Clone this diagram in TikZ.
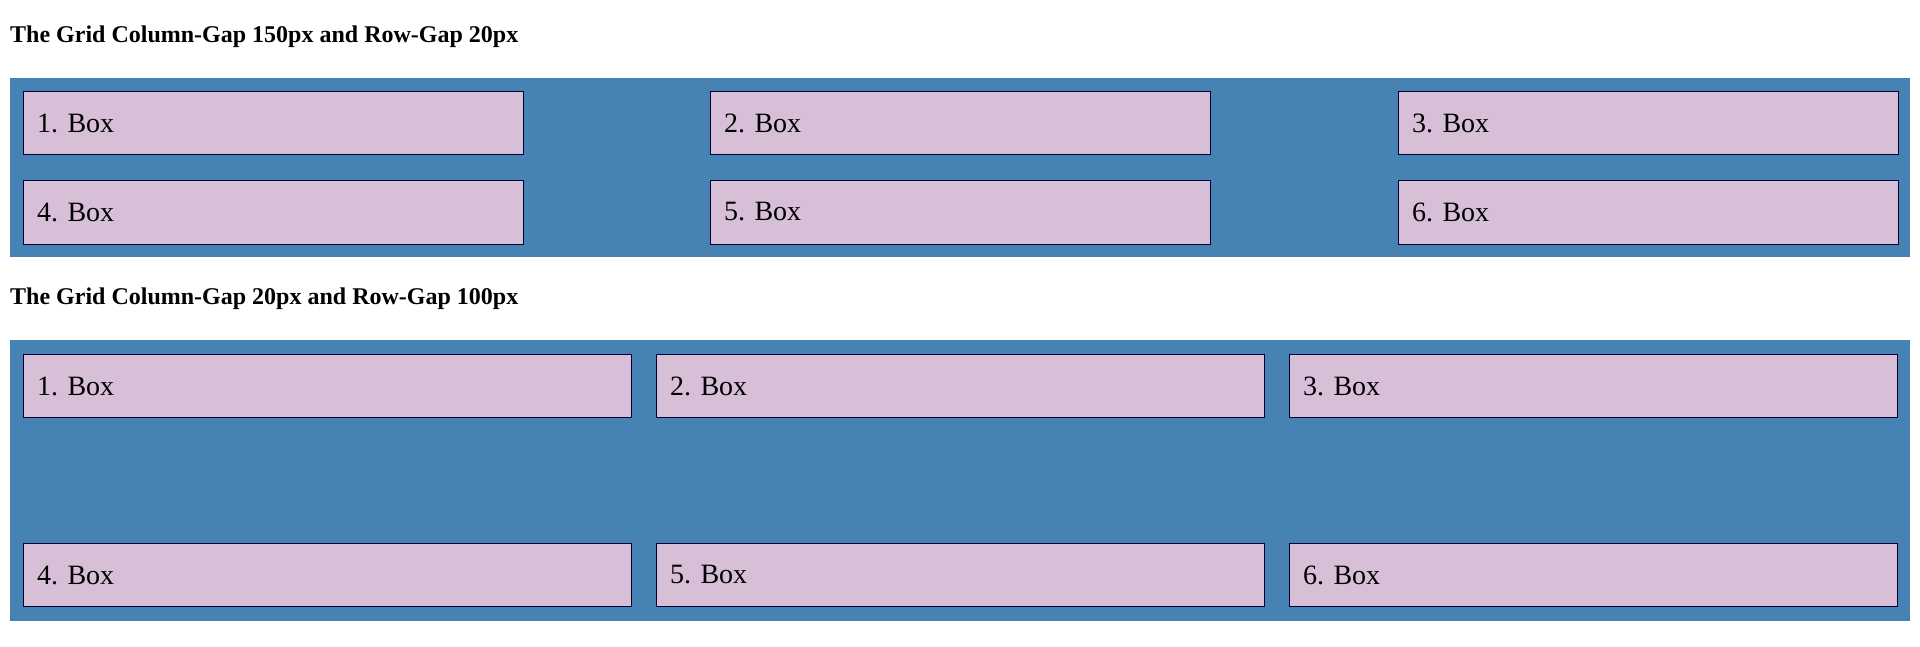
\documentclass[tikz,border=0pt]{standalone}
\usepackage{fontspec}
\setmainfont{Liberation Serif}
\definecolor{steel}{HTML}{4682B4}
\definecolor{thist}{HTML}{D8BFD8}
\begin{document}
\begin{tikzpicture}[x=1pt,y=-1pt,
  band/.style={fill=steel,draw=none},
  gbox/.style={fill=thist,draw=black!80!blue,line width=0.9pt},
  lbl/.style={anchor=west,font=\fontsize{28}{30}\selectfont,inner sep=0pt},
  ttl/.style={anchor=west,font=\fontsize{24}{26}\selectfont\bfseries,inner sep=0pt}]
\useasboundingbox[fill=white] (0,0) rectangle (1920,647);
\node[ttl] (t1) at (10,37) {The Grid Column-Gap 150px and Row-Gap 20px};
\fill[band] (10,78) rectangle (1910,257);
\foreach \x/\n in {23/1,710/2,1398/3}{
  \draw[gbox] (\x,91) rectangle ++(500,63);
  \node[lbl] (a\n) at (\x+14,123) {\n. Box};}
\foreach \x/\n in {23/4,710/5,1398/6}{
  \draw[gbox] (\x,180) rectangle ++(500,64);
  \node[lbl] (a\n) at (\x+14,212) {\n. Box};}
\node[ttl] (t2) at (10,299) {The Grid Column-Gap 20px and Row-Gap 100px};
\fill[band] (10,340) rectangle (1910,621);
\foreach \x/\n in {23/1,656/2,1289/3}{
  \draw[gbox] (\x,354) rectangle ++(608,63);
  \node[lbl] (b\n) at (\x+14,386) {\n. Box};}
\foreach \x/\n in {23/4,656/5,1289/6}{
  \draw[gbox] (\x,543) rectangle ++(608,63);
  \node[lbl] (b\n) at (\x+14,575) {\n. Box};}
\end{tikzpicture}
\end{document}
